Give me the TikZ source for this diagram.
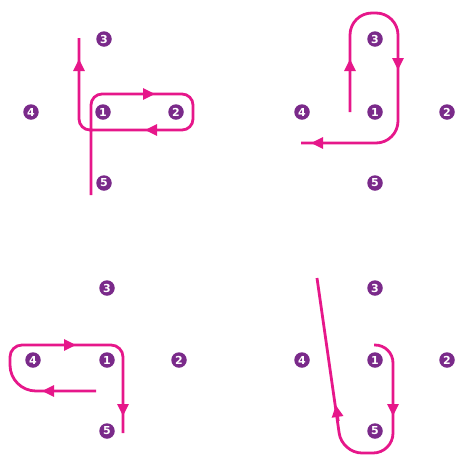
\documentclass[tikz,border=0pt]{standalone}
\usepackage{fontspec}
\setmainfont{DejaVu Sans}
\usetikzlibrary{arrows.meta}
\definecolor{pinkline}{HTML}{E6178A}
\definecolor{dotpurple}{HTML}{7A2A8A}
\begin{document}
\begin{tikzpicture}[x=1pt,y=-1pt,
  num/.style={circle,fill=dotpurple,inner sep=0pt,minimum size=15.5pt,text=white,font=\bfseries\fontsize{11}{11}\selectfont},
  stroke/.style={draw=pinkline,line width=2.8pt},
  head/.style={draw=pinkline,line width=2.8pt,-{Triangle[length=12pt,width=11pt]}}]
\useasboundingbox (0,0) rectangle (462,456);
% panel 1
\node[num] (a1) at (103,112) {1};
\node[num] (a2) at (176,112) {2};
\node[num] (a3) at (104,39) {3};
\node[num] (a4) at (31,112) {4};
\node[num] (a5) at (104,183) {5};
\draw[stroke,rounded corners=11pt] (91,195) -- (91,94) -- (193,94) -- (193,130) -- (79,130) -- (79,38);
\draw[head] (79,75) -- (79,59);
\draw[head] (140,94) -- (155,94);
\draw[head] (160,130) -- (145,130);
% panel 2
\node[num] (b1) at (375,112) {1};
\node[num] (b2) at (447,112) {2};
\node[num] (b3) at (375,39) {3};
\node[num] (b4) at (302,112) {4};
\node[num] (b5) at (375,183) {5};
\draw[stroke,rounded corners=22pt] (350,112) -- (350,13) -- (398,13) -- (398,143) -- (301,143);
\draw[head] (350,75) -- (350,59);
\draw[head] (398,54) -- (398,70);
\draw[head] (327,143) -- (311,143);
% panel 3
\node[num] (c1) at (107,360) {1};
\node[num] (c2) at (179,360) {2};
\node[num] (c3) at (107,288) {3};
\node[num] (c4) at (33,360) {4};
\node[num] (c5) at (107,431) {5};
\draw[stroke] (96,391) [rounded corners=26pt] -- (10,391) [rounded corners=12pt] -- (10,345) -- (123,345) -- (123,433);
\draw[head] (61,345) -- (76,345);
\draw[head] (58,391) -- (42,391);
\draw[head] (123,400) -- (123,416);
% panel 4
\node[num] (d1) at (375,360) {1};
\node[num] (d2) at (447,360) {2};
\node[num] (d3) at (375,288) {3};
\node[num] (d4) at (302,360) {4};
\node[num] (d5) at (375,431) {5};
\draw[stroke] (374,345) [rounded corners=18pt] -- (393,345) [rounded corners=20pt] -- (393,453) -- (342,453) [sharp corners] -- (317,278);
\draw[head] (393,400) -- (393,416);
\draw[head] (338.2,421) -- (335.8,405);
\end{tikzpicture}
\end{document}
